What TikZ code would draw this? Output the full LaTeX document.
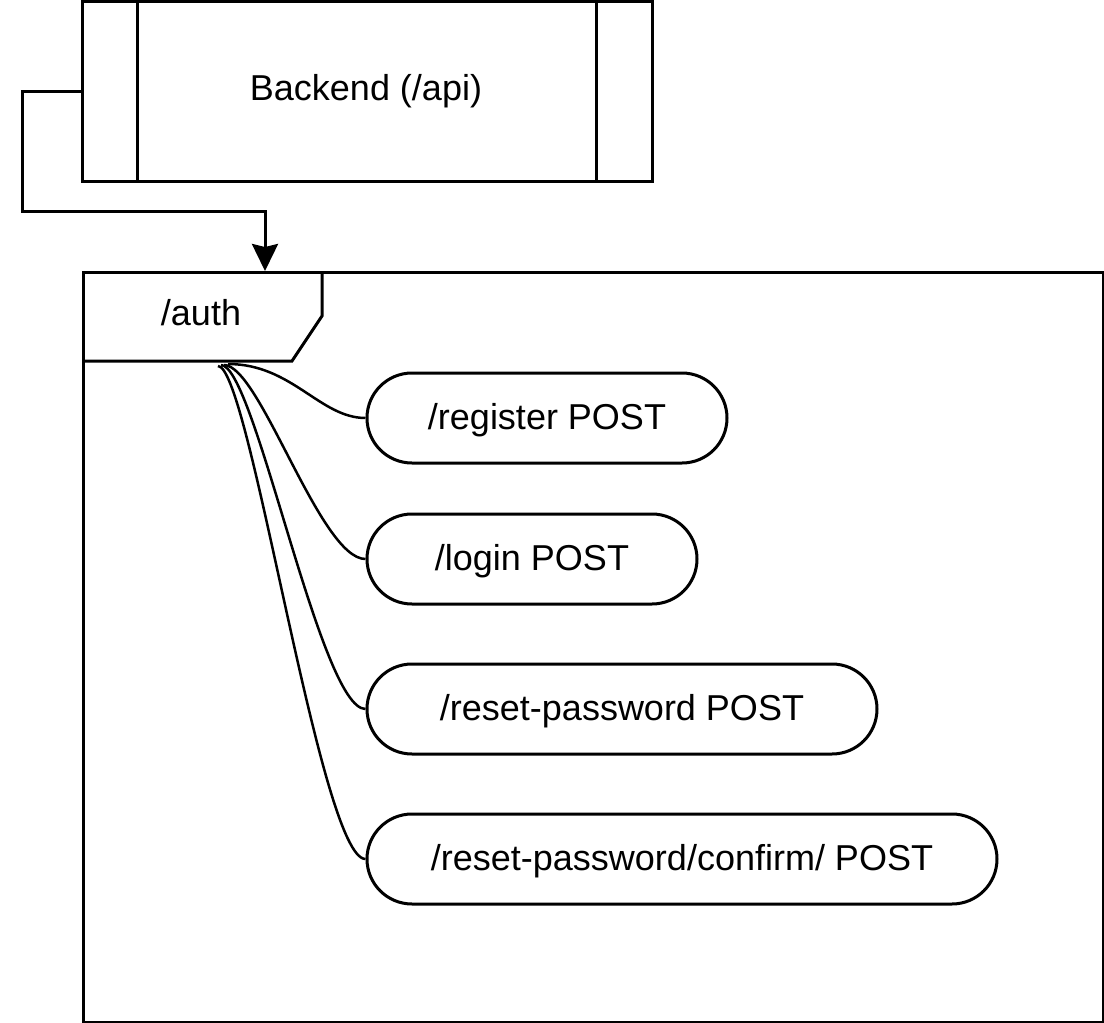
\documentclass[tikz,border=0pt]{standalone}
\usepackage{fontspec}
\setmainfont{Liberation Sans}
\usetikzlibrary{arrows.meta,calc,shapes.misc}
\begin{document}
\begin{tikzpicture}[x=1pt,y=-1pt, line width=3pt,
  every node/.style={font=\fontsize{36}{43}\selectfont},
  pill/.style={draw, rounded rectangle, rounded rectangle arc length=180, minimum height=90pt, inner sep=0pt, text height=22pt, text depth=0pt},
  link/.style={line width=2.5pt},
  flow/.style={line width=3pt, -{Stealth[length=27pt,width=26pt,inset=3pt]}}]
\useasboundingbox (0,0) rectangle (1104,1023);

% Backend process box
\node[draw, minimum width=570pt, minimum height=180pt, inner sep=0pt] (backend) at (367,91) {};
\draw ([xshift=57pt]backend.north west) -- ([xshift=57pt]backend.south west);
\draw ([xshift=-57pt]backend.north east) -- ([xshift=-57pt]backend.south east);
\node[text height=22pt, text depth=0pt] (backendlabel) at (366,89) {Backend (/api)};

% frame
\node[draw, minimum width=1020pt, minimum height=750pt, inner sep=0pt, anchor=north west] (frame) at (82,271) {};
\draw (frame.north west) ++(240,0) -- ++(0,45) -- ++(-30,45) -- ++(-210,0);
\node[text height=22pt, text depth=0pt] (auth) at (201,314) {/auth};

% arrow
\coordinate (arrowend) at (265,271);
\draw[flow] (backend.west) -- (22,91) -- (22,211) -- (265,211) -- (arrowend);

% endpoints
\node[pill, minimum width=360pt] (p1) at (547,418) {/register POST};
\node[pill, minimum width=330pt] (p2) at (532,559) {/login POST};
\node[pill, minimum width=510pt] (p3) at (622,709) {/reset-password POST};
\node[pill, minimum width=630pt] (p4) at (682,859) {/reset-password/confirm/ POST};

\coordinate (s1) at (228,364);
\coordinate (s2) at (224,365);
\coordinate (s3) at (221,365);
\coordinate (s4) at (218,366);
\draw[link] (s1) .. controls (292,364) and (320,418) .. (p1.west);
\draw[link] (s2) .. controls (260,365) and (320,559) .. (p2.west);
\draw[link] (s3) .. controls (255,365) and (320,709) .. (p3.west);
\draw[link] (s4) .. controls (250,366) and (320,859) .. (p4.west);
\end{tikzpicture}
\end{document}
